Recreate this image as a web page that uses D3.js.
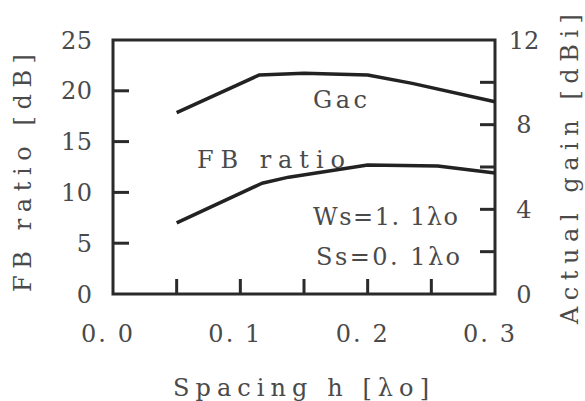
<!DOCTYPE html>
<html>
<head>
<meta charset="utf-8">
<script src="https://cdn.jsdelivr.net/npm/d3@7"></script>
<style>
  body { margin: 0; background: #fff; }
  text { font-family: "DejaVu Serif", "Liberation Serif", serif; fill: #4a4a4a; }
</style>
</head>
<body>
<div id="chart"></div>
<script>
// spacing h [λo] and values
var gacSpacing = [0.05, 0.115, 0.15, 0.2, 0.235, 0.3];
var gacValues  = [8.57, 10.35, 10.43, 10.35, 9.95, 9.08];   // dBi, right axis
var fbSpacing  = [0.05, 0.117, 0.138, 0.2, 0.255, 0.3];
var fbValues   = [7.0, 10.9, 11.5, 12.7, 12.6, 11.9];       // dB, left axis

var xTickLabels = [0.0, 0.1, 0.2, 0.3];
var xMinorTicks = [0.05, 0.1, 0.15, 0.2, 0.25];
var leftTickLabels = [0, 5, 10, 15, 20, 25];
var rightTickLabels = [0, 4, 8, 12];
var rightMinorTicks = [2, 4, 6, 8, 10];

var W = 585, H = 401;
var margin = {top: 40, right: 90, bottom: 107, left: 113};
var width = 495 - margin.left, height = 294 - margin.top;

var svg = d3.select("#chart").append("svg")
    .attr("width", W).attr("height", H);
var g = svg.append("g")
    .attr("transform", "translate(" + margin.left + "," + margin.top + ")");

var x = d3.scaleLinear().domain([0, 0.3]).range([0, width]);
var yL = d3.scaleLinear().domain([0, 25]).range([height, 0]);
var yR = d3.scaleLinear().domain([0, 12]).range([height, 0]);

var ink = "#2a2a2a";

// inward ticks
g.selectAll(".lt").data([5, 10, 15, 20]).enter().append("line")
    .attr("x1", 0).attr("x2", 16)
    .attr("y1", function(d) { return yL(d); }).attr("y2", function(d) { return yL(d); })
    .attr("stroke", ink).attr("stroke-width", 3);
g.selectAll(".bt").data(xMinorTicks).enter().append("line")
    .attr("x1", function(d) { return x(d); }).attr("x2", function(d) { return x(d); })
    .attr("y1", height).attr("y2", height - 15)
    .attr("stroke", ink).attr("stroke-width", 3);
g.selectAll(".rt").data(rightMinorTicks).enter().append("line")
    .attr("x1", width).attr("x2", width - 15)
    .attr("y1", function(d) { return yR(d); }).attr("y2", function(d) { return yR(d); })
    .attr("stroke", ink).attr("stroke-width", 3);

// frame
g.append("rect").attr("x", 0).attr("y", 0).attr("width", width).attr("height", height)
    .attr("fill", "none").attr("stroke", ink).attr("stroke-width", 3);

// curves
var lineL = d3.line().x(function(d) { return x(d[0]); }).y(function(d) { return yL(d[1]); });
var lineR = d3.line().x(function(d) { return x(d[0]); }).y(function(d) { return yR(d[1]); });

g.append("path").datum(d3.zip(gacSpacing, gacValues))
    .attr("d", lineR).attr("fill", "none").attr("stroke", "#222")
    .attr("stroke-width", 3.5).attr("stroke-linejoin", "round");
g.append("path").datum(d3.zip(fbSpacing, fbValues))
    .attr("d", lineL).attr("fill", "none").attr("stroke", "#222")
    .attr("stroke-width", 3.5).attr("stroke-linejoin", "round");

// tick labels
var fs = 24;
g.selectAll(".ll").data(leftTickLabels).enter().append("text")
    .attr("x", -21).attr("y", function(d) { return yL(d); })
    .attr("dy", "0.36em").attr("text-anchor", "end")
    .attr("font-size", fs)
    .attr("textLength", function(d) { return String(d).length * 15.5; })
    .attr("lengthAdjust", "spacing")
    .text(function(d) { return d; });

g.selectAll(".rl").data(rightTickLabels).enter().append("text")
    .attr("x", width + 29).attr("y", function(d) { return yR(d); })
    .attr("dy", "0.36em").attr("text-anchor", "middle")
    .attr("font-size", fs)
    .text(function(d) { return d; });

g.selectAll(".xl").data(xTickLabels).enter().append("text")
    .attr("x", function(d) { return x(d) - 6; }).attr("y", 48)
    .attr("transform", "translate(0," + height + ")")
    .attr("text-anchor", "middle").attr("font-size", fs)
    .attr("textLength", 52).attr("lengthAdjust", "spacing")
    .text(function(d) { return d.toFixed(1).replace(".", ". "); });

// axis titles
svg.append("text")
    .attr("transform", "translate(31,173) rotate(-90)")
    .attr("text-anchor", "middle").attr("font-size", fs)
    .attr("textLength", 238).attr("lengthAdjust", "spacing")
    .text("FB ratio [dB]");
svg.append("text")
    .attr("transform", "translate(578,169) rotate(-90)")
    .attr("text-anchor", "middle").attr("font-size", fs)
    .attr("textLength", 310).attr("lengthAdjust", "spacing")
    .text("Actual gain [dBi]");
svg.append("text")
    .attr("x", 301).attr("y", 396)
    .attr("text-anchor", "middle").attr("font-size", fs)
    .attr("textLength", 256).attr("lengthAdjust", "spacing")
    .text("Spacing h [λo]");

// annotations inside the plot
var notes = [
  {t: "Gac", x: 313, y: 108, w: 54},
  {t: "FB ratio", x: 197, y: 168, w: 148},
  {t: "Ws=1. 1λo", x: 313, y: 225, w: 145},
  {t: "Ss=0. 1λo", x: 316, y: 265, w: 144}
];
svg.selectAll(".note").data(notes).enter().append("text")
    .attr("x", function(d) { return d.x; }).attr("y", function(d) { return d.y; })
    .attr("font-size", fs)
    .attr("textLength", function(d) { return d.w; }).attr("lengthAdjust", "spacing")
    .text(function(d) { return d.t; });
</script>
</body>
</html>
